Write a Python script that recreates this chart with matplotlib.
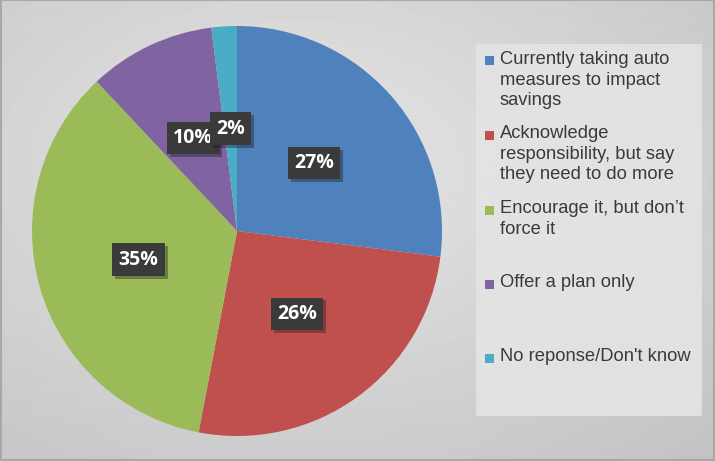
import matplotlib.pyplot as plt
import matplotlib.patheffects as pe
from matplotlib.patches import Rectangle
import numpy as np

categories = ["Currently taking auto\nmeasures to impact\nsavings",
              "Acknowledge\nresponsibility, but say\nthey need to do more",
              "Encourage it, but don\u2019t\nforce it",
              "Offer a plan only",
              "No reponse/Don't know"]
values = [27, 26, 35, 10, 2]
colors = ["#4F81BD", "#C0504D", "#9BBB59", "#8064A2", "#4BACC6"]

W, H = 715, 461
fig = plt.figure(figsize=(W / 100, H / 100), dpi=100)

# background gradient
bg = fig.add_axes([0, 0, 1, 1])
yy, xx = np.mgrid[0:H, 0:W]
d = np.sqrt(((xx - 300) / W) ** 2 + ((yy - 170) / H) ** 2)
grad = 0.90 - 0.16 * d
bg.imshow(grad, cmap="gray", vmin=0, vmax=1, extent=[0, W, H, 0], aspect="auto")
bg.set_xlim(0, W)
bg.set_ylim(H, 0)
bg.axis("off")
bg.add_patch(Rectangle((0.5, 0.5), W - 1.5, H - 1.5, fill=False, ec="#a8a8a8", lw=1.5))

# legend box
bg.add_patch(Rectangle((476, 44), 226, 372, fc="#e4e4e4", ec="none", alpha=0.9))

# pie
cx, cy, R = 237, 231, 205
ax = fig.add_axes([(cx - R) / W, (H - cy - R) / H, 2 * R / W, 2 * R / H])
wedges, texts, autotexts = ax.pie(values, colors=colors, startangle=90, counterclock=False,
                                  autopct="%d%%", pctdistance=0.5,
                                  wedgeprops=dict(linewidth=0))
ax.set_aspect("equal")
ax.set_xlim(-1, 1)
ax.set_ylim(-1, 1)
ax.axis("off")

for t in autotexts:
    t.set_color("white")
    t.set_fontsize(14)
    t.set_fontweight("bold")
    t.set_family("Open Sans")
    t.set_bbox(dict(boxstyle="square,pad=0.32", fc="#3a3a3a", ec="none"))
    t.get_bbox_patch().set_path_effects([pe.SimplePatchShadow(offset=(2, -2), alpha=0.35), pe.Normal()])

# legend entries
ys = [61, 135, 210, 284, 358]
for w, lab, y in zip(wedges, categories, ys):
    bg.add_patch(Rectangle((485, y - 4.5), 9, 9, fc=w.get_facecolor(), ec="none"))
    bg.text(500, y - 10, lab, fontsize=13.2, family="Liberation Sans", color="#3a3a3a",
            va="top", ha="left", linespacing=1.28)

fig.savefig("out.png", dpi=100)
